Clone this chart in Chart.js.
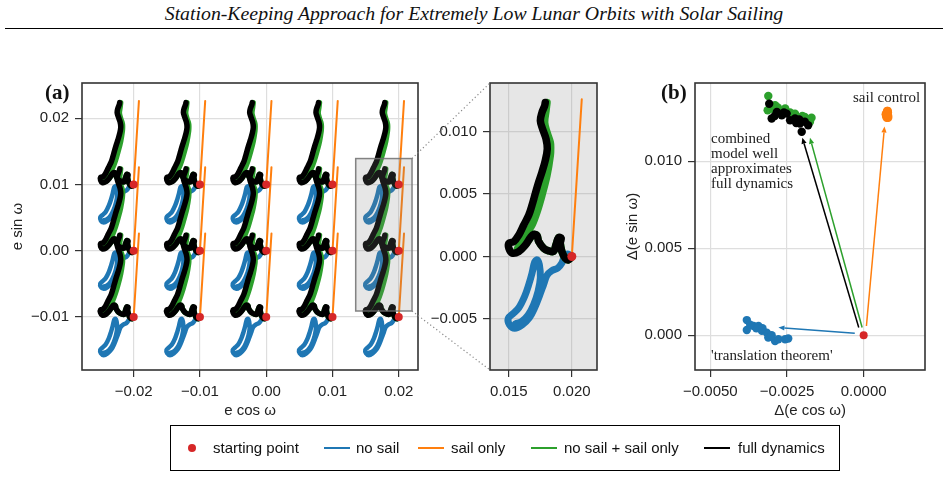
<!DOCTYPE html>
<html>
<head>
<meta charset="utf-8">
<script src="https://cdn.jsdelivr.net/npm/chart.js@4.4.1/dist/chart.umd.min.js"></script>
<style>
  body { margin: 0; background: #fff; width: 948px; height: 479px; overflow: hidden; position: relative; font-family: 'Liberation Sans', Arial, sans-serif; }
  #title { position: absolute; left: 0; top: 2px; width: 948px; text-align: center; font: italic 19.8px 'Liberation Serif', serif; color: #111; }
  #rule { position: absolute; left: 5px; top: 28px; width: 938px; border-top: 1.5px solid #000; }
  canvas { position: absolute; }
  .ann { position: absolute; font: 15px 'Liberation Serif', serif; color: #222; line-height: 15px; white-space: nowrap; }
  .lbl { position: absolute; font: bold 21px 'Liberation Serif', serif; color: #111; }
  #legend { position: absolute; left: 170px; top: 425px; width: 670px; height: 46px; border: 1px solid #000; box-sizing: border-box; }
  .item { position: absolute; top: 0; height: 44px; line-height: 44px; font-size: 15px; color: #111; }
  .mk { position: absolute; }
</style>
</head>
<body>
<div id="title">Station-Keeping Approach for Extremely Low Lunar Orbits with Solar Sailing</div>
<div id="rule"></div>

<canvas id="ca" width="430" height="360" style="left:0;top:60px"></canvas>
<canvas id="cz" width="175" height="360" style="left:430px;top:60px"></canvas>
<canvas id="cb" width="328" height="360" style="left:620px;top:60px"></canvas>
<canvas id="over" width="948" height="479" style="left:0;top:0;pointer-events:none"></canvas>

<div class="lbl" style="left:45px;top:80px">(a)</div>
<div class="lbl" style="left:661px;top:80px">(b)</div>
<div class="ann" style="left:853px;top:90px">sail control</div>
<div class="ann" style="left:711px;top:131px">combined<br>model well<br>approximates<br>full dynamics</div>
<div class="ann" style="left:711px;top:348px">'translation theorem'</div>

<div id="legend"></div>

<script>
// ---- data ----
// starting points of the grid in panel (a)
const startX = [-0.02, -0.01, 0.0, 0.01, 0.02];
const startY = [0.01, 0.0, -0.01];

// trajectories relative to their starting point
const noSailDx = [0, -0.00032, -0.00058, -0.00079, -0.00111, -0.00158, -0.00197, -0.00224, -0.00258, -0.00295, -0.00337, -0.00395, -0.00453, -0.00495, -0.00505, -0.00468, -0.00421, -0.00374, -0.00342, -0.00316, -0.00295, -0.00276, -0.00258, -0.00250, -0.00268, -0.00303, -0.00347, -0.00400, -0.00447];
const noSailDy = [0, 0.00019, 0, -0.00053, -0.00093, -0.00114, -0.00151, -0.00225, -0.00318, -0.00411, -0.00491, -0.00549, -0.00576, -0.00549, -0.00496, -0.00459, -0.00411, -0.00318, -0.00225, -0.00133, -0.00045, -0.00027, -0.00066, -0.00172, -0.00279, -0.00385, -0.00470, -0.00523, -0.00539];

const sailDx = [0, 0.00079];
const sailDy = [0, 0.0126];

const combDx = [0, -0.00026, -0.00053, -0.00079, -0.00092, -0.00105, -0.00126, -0.00145, -0.00184, -0.00224, -0.00263, -0.00276, -0.00303, -0.00329, -0.00368, -0.00421, -0.00434, -0.00410, -0.00382, -0.00350, -0.00316, -0.00276, -0.00237, -0.00197, -0.00171, -0.00168, -0.00171, -0.00197, -0.00216, -0.00205, -0.00197];
const combDy = [0, -0.00027, -0.00013, 0.00040, 0.00106, 0.00151, 0.00093, 0.00040, 0.00045, 0.00066, 0.00119, 0.00167, 0.00178, 0.00151, 0.00093, 0.00045, 0.00053, 0.00100, 0.00146, 0.00200, 0.00252, 0.00358, 0.00491, 0.00650, 0.00809, 0.00870, 0.00915, 0.00995, 0.01074, 0.01167, 0.01234];

const fullDx = [0, -0.00026, -0.00053, -0.00079, -0.00092, -0.00084, -0.00105, -0.00126, -0.00145, -0.00184, -0.00224, -0.00263, -0.00276, -0.00303, -0.00329, -0.00368, -0.00421, -0.00474, -0.00500, -0.00500, -0.00461, -0.00421, -0.00382, -0.00342, -0.00316, -0.00290, -0.00263, -0.00237, -0.00211, -0.00195, -0.00205, -0.00232, -0.00250, -0.00237, -0.00216, -0.00211];
const fullDy = [0, -0.00027, -0.00013, 0.00040, 0.00106, 0.00146, 0.00151, 0.00093, 0.00040, 0.00045, 0.00066, 0.00119, 0.00167, 0.00178, 0.00151, 0.00093, 0.00040, 0.00027, 0.00066, 0.00106, 0.00119, 0.00172, 0.00252, 0.00332, 0.00411, 0.00504, 0.00597, 0.00677, 0.00769, 0.00862, 0.00942, 0.01021, 0.01088, 0.01154, 0.01207, 0.01234];

// zoomed region
const zoomX = [0.0135, 0.0220];
const zoomY = [-0.0091, 0.0139];
const zoomStart = [0.02, 0.0];

// panel (b): end-point offsets
const endNoSailX = [-0.00381, -0.00381, -0.00359, -0.00343, -0.00332, -0.00316, -0.00311, -0.00289, -0.00278, -0.00256, -0.00246, -0.00350, -0.00330, -0.00300, -0.00370];
const endNoSailY = [0.00087, 0.00030, 0.00053, 0.00053, 0.00025, 0.00015, -0.00013, -0.00033, -0.00023, -0.00023, -0.00019, 0.00040, 0.00040, 0.00000, 0.00060];
const endSailX = [0.00072, 0.00078, 0.00080, 0.00075, 0.00078, 0.00074, 0.00077, 0.00079, 0.00073, 0.00076, 0.00080, 0.00075, 0.00077, 0.00079, 0.00076];
const endSailY = [0.01270, 0.01280, 0.01260, 0.01250, 0.01290, 0.01270, 0.01260, 0.01280, 0.01260, 0.01270, 0.01250, 0.01280, 0.01290, 0.01260, 0.01270];
const endCombX = [-0.00311, -0.00313, -0.00289, -0.00256, -0.00224, -0.00192, -0.00170, -0.00175, -0.00295, -0.00265, -0.00215, -0.00200, -0.00180, -0.00240, -0.00280];
const endCombY = [0.01375, 0.01293, 0.01322, 0.01303, 0.01274, 0.01255, 0.01250, 0.01227, 0.01300, 0.01290, 0.01240, 0.01260, 0.01240, 0.01280, 0.01310];
const endFullX = [-0.00308, -0.00300, -0.00283, -0.00267, -0.00251, -0.00240, -0.00224, -0.00208, -0.00192, -0.00202, -0.00181, -0.00290, -0.00260, -0.00220, -0.00210];
const endFullY = [0.01331, 0.01246, 0.01284, 0.01265, 0.01274, 0.01236, 0.01246, 0.01217, 0.01227, 0.01170, 0.01207, 0.01260, 0.01280, 0.01220, 0.01240];

// arrows in panel (b): [x0, y0, x1, y1]
const arrowNoSail = [-0.00029, 0.00011, -0.00278, 0.00044];
const arrowSail = [0.00009, 0.00053, 0.00068, 0.01200];
const arrowComb = [-0.00005, 0.00044, -0.00175, 0.01135];
const arrowFull = [-0.00016, 0.00044, -0.00200, 0.01135];

// ticks
const aXTicks = [-0.02, -0.01, 0, 0.01, 0.02];
const aXLabels = ['\u22120.02', '\u22120.01', '0.00', '0.01', '0.02'];
const aYTicks = [-0.01, 0, 0.01, 0.02];
const aYLabels = ['\u22120.01', '0.00', '0.01', '0.02'];
const zXTicks = [0.015, 0.020];
const zXLabels = ['0.015', '0.020'];
const zYTicks = [-0.005, 0, 0.005, 0.010];
const zYLabels = ['\u22120.005', '0.000', '0.005', '0.010'];
const bXTicks = [-0.005, -0.0025, 0];
const bXLabels = ['\u22120.0050', '\u22120.0025', '0.0000'];
const bYTicks = [0, 0.005, 0.010];
const bYLabels = ['0.000', '0.005', '0.010'];

const legendNames = ['starting point', 'no sail', 'sail only', 'no sail + sail only', 'full dynamics'];

// ---- styles ----
const RED = '#d62728', BLUE = '#1f77b4', ORANGE = '#ff7f0e', GREEN = '#2ca02c', BLACK = '#000000';
const legendColors = [RED, BLUE, ORANGE, GREEN, BLACK];
const legendMarkX = [21, 153, 247, 360, 533];
const legendTextX = [42, 185, 280, 393, 567];

Chart.defaults.font.family = "'Liberation Sans', Arial, sans-serif";
Chart.defaults.color = '#222';

function scaleOpts(o) {
  return {
    type: 'linear', min: o.min, max: o.max,
    afterBuildTicks: s => { s.ticks = o.ticks.map(v => ({ value: v })); },
    afterFit: s => { if (o.width) s.width = o.width; if (o.height) s.height = o.height; },
    ticks: { callback: (v, i) => o.labels[i], autoSkip: false, maxRotation: 0, padding: 6, color: '#222', font: { size: 15 } },
    grid: { color: o.gridColor || '#dedede', lineWidth: 1.2, tickColor: '#333', tickLength: 7, tickWidth: 1.2 },
    border: { display: false },
    title: o.title ? { display: true, text: o.title, color: '#222', font: { size: 15 }, padding: o.titlePad } : { display: false }
  };
}

const framePlugin = {
  id: 'frame',
  afterDraw(chart) {
    const { ctx, chartArea: a } = chart;
    ctx.save();
    ctx.strokeStyle = '#333';
    ctx.lineWidth = 1.6;
    ctx.strokeRect(a.left, a.top, a.right - a.left, a.bottom - a.top);
    ctx.restore();
  }
};

function lineSet(dx, dy, x0, y0, color, w) {
  return {
    data: dx.map((v, i) => ({ x: x0 + v, y: y0 + dy[i] })),
    showLine: true, borderColor: color, backgroundColor: color, borderWidth: w,
    pointRadius: 0, tension: 0.35, borderJoinStyle: 'round', borderCapStyle: 'round'
  };
}

function trajectorySets(starts, w, wBlue) {
  // top to bottom: full dynamics, combined, sail only, no sail
  const series = [
    [fullDx, fullDy, BLACK, w],
    [combDx, combDy, GREEN, w],
    [sailDx, sailDy, ORANGE, 2],
    [noSailDx, noSailDy, BLUE, wBlue]
  ];
  const sets = [];
  series.forEach(([dx, dy, c, lw]) => {
    starts.forEach(([x0, y0]) => sets.push(lineSet(dx, dy, x0, y0, c, lw)));
  });
  return sets;
}

// ---- panel (a) ----
const starts = [];
startY.forEach(y => startX.forEach(x => starts.push([x, y])));

const dsA = [{
  data: starts.map(([x, y]) => ({ x, y })),
  backgroundColor: RED, borderColor: RED, pointRadius: 4, pointBorderWidth: 0
}].concat(trajectorySets(starts, 5.5, 4.5));

const insetRect = {
  id: 'insetRect',
  afterDatasetDraw(chart, args) {
    if (args.index !== 1) return;
    const { ctx, scales: { x, y } } = chart;
    const l = x.getPixelForValue(zoomX[0]), r = x.getPixelForValue(zoomX[1]);
    const t = y.getPixelForValue(zoomY[1]), b = y.getPixelForValue(zoomY[0]);
    ctx.save();
    ctx.fillStyle = 'rgba(128,128,128,0.2)';
    ctx.fillRect(l, t, r - l, b - t);
    ctx.strokeStyle = 'rgba(110,110,110,0.85)';
    ctx.lineWidth = 1.5;
    ctx.strokeRect(l, t, r - l, b - t);
    ctx.restore();
  }
};

const chartA = new Chart(document.getElementById('ca'), {
  type: 'scatter',
  data: { datasets: dsA },
  options: {
    responsive: false, animation: false,
    layout: { padding: { top: 23, right: 12, left: 0, bottom: 0 } },
    plugins: { legend: { display: false }, tooltip: { enabled: false } },
    scales: {
      x: scaleOpts({ min: -0.0278, max: 0.0229, ticks: aXTicks, labels: aXLabels, height: 50, title: 'e cos \u03c9', titlePad: { top: 0, bottom: 0 } }),
      y: scaleOpts({ min: -0.018, max: 0.0253, ticks: aYTicks, labels: aYLabels, width: 82, title: 'e sin \u03c9', titlePad: { top: 9, bottom: 0 } })
    }
  },
  plugins: [framePlugin, insetRect]
});

// ---- zoomed panel ----
const zoomBg = {
  id: 'zoomBg',
  beforeDraw(chart) {
    const { ctx, chartArea: a } = chart;
    ctx.save();
    ctx.fillStyle = '#e6e6e6';
    ctx.fillRect(a.left, a.top, a.right - a.left, a.bottom - a.top);
    ctx.restore();
  }
};

const dsZ = [{
  data: [{ x: zoomStart[0], y: zoomStart[1] }],
  backgroundColor: RED, borderColor: RED, pointRadius: 4.5, pointBorderWidth: 0
}].concat(trajectorySets([zoomStart], 7.5, 7));

const chartZ = new Chart(document.getElementById('cz'), {
  type: 'scatter',
  data: { datasets: dsZ },
  options: {
    responsive: false, animation: false,
    layout: { padding: { top: 23, right: 8, left: 0, bottom: 0 } },
    plugins: { legend: { display: false }, tooltip: { enabled: false } },
    scales: {
      x: scaleOpts({ min: zoomX[0], max: zoomX[1], ticks: zXTicks, labels: zXLabels, height: 50, gridColor: '#cccccc' }),
      y: scaleOpts({ min: zoomY[0], max: zoomY[1], ticks: zYTicks, labels: zYLabels, width: 60, gridColor: '#cccccc' })
    }
  },
  plugins: [zoomBg, framePlugin]
});

// ---- panel (b) ----
const arrowPlugin = {
  id: 'arrows',
  beforeDatasetsDraw(chart) {
    const { ctx, scales: { x, y } } = chart;
    [[arrowNoSail, BLUE], [arrowSail, ORANGE], [arrowComb, GREEN], [arrowFull, BLACK]].forEach(([a, c]) => {
      const x0 = x.getPixelForValue(a[0]), y0 = y.getPixelForValue(a[1]);
      const x1 = x.getPixelForValue(a[2]), y1 = y.getPixelForValue(a[3]);
      const ang = Math.atan2(y1 - y0, x1 - x0);
      const hl = 6, hw = 2.6;
      ctx.save();
      ctx.strokeStyle = c; ctx.fillStyle = c; ctx.lineWidth = 1.5;
      ctx.beginPath();
      ctx.moveTo(x0, y0);
      ctx.lineTo(x1 - hl * Math.cos(ang), y1 - hl * Math.sin(ang));
      ctx.stroke();
      ctx.beginPath();
      ctx.moveTo(x1, y1);
      ctx.lineTo(x1 - hl * Math.cos(ang) + hw * Math.sin(ang), y1 - hl * Math.sin(ang) - hw * Math.cos(ang));
      ctx.lineTo(x1 - hl * Math.cos(ang) - hw * Math.sin(ang), y1 - hl * Math.sin(ang) + hw * Math.cos(ang));
      ctx.closePath();
      ctx.fill();
      ctx.restore();
    });
  }
};

function pointSet(xs, ys, c, r) {
  return { data: xs.map((v, i) => ({ x: v, y: ys[i] })), backgroundColor: c, borderColor: c, pointRadius: r, pointBorderWidth: 0 };
}

const dsB = [
  pointSet([0], [0], RED, 4),
  pointSet(endFullX, endFullY, BLACK, 4.2),
  pointSet(endCombX, endCombY, GREEN, 4.2),
  pointSet(endSailX, endSailY, ORANGE, 4.2),
  pointSet(endNoSailX, endNoSailY, BLUE, 4.2)
];

const chartB = new Chart(document.getElementById('cb'), {
  type: 'scatter',
  data: { datasets: dsB },
  options: {
    responsive: false, animation: false,
    layout: { padding: { top: 23, right: 23, left: 0, bottom: 0 } },
    plugins: { legend: { display: false }, tooltip: { enabled: false } },
    scales: {
      x: scaleOpts({ min: -0.0055, max: 0.002, ticks: bXTicks, labels: bXLabels, height: 50, title: '\u0394(e cos \u03c9)', titlePad: { top: 0, bottom: 0 } }),
      y: scaleOpts({ min: -0.002, max: 0.0145, ticks: bYTicks, labels: bYLabels, width: 75, title: '\u0394(e sin \u03c9)', titlePad: { top: 4, bottom: 0 } })
    }
  },
  plugins: [arrowPlugin, framePlugin]
});

// ---- dotted connectors between inset box and zoomed panel ----
(function () {
  const ctx = document.getElementById('over').getContext('2d');
  const ax = chartA.scales.x, ay = chartA.scales.y;
  const rx = ax.getPixelForValue(zoomX[1]);
  const rt = 60 + ay.getPixelForValue(zoomY[1]);
  const rb = 60 + ay.getPixelForValue(zoomY[0]);
  const za = chartZ.chartArea;
  ctx.strokeStyle = '#888';
  ctx.lineWidth = 1.2;
  ctx.setLineDash([1.2, 2.6]);
  ctx.beginPath();
  ctx.moveTo(rx, rt); ctx.lineTo(430 + za.left, 60 + za.top);
  ctx.moveTo(rx, rb); ctx.lineTo(430 + za.left, 60 + za.bottom);
  ctx.stroke();
})();

// ---- legend ----
const lg = document.getElementById('legend');
legendNames.forEach((name, i) => {
  const mk = document.createElement('div');
  mk.className = 'mk';
  if (i === 0) {
    mk.style.cssText = `left:${legendMarkX[i] - 4}px;top:18px;width:8px;height:8px;border-radius:50%;background:${legendColors[i]}`;
  } else {
    mk.style.cssText = `left:${legendMarkX[i]}px;top:21px;width:26px;height:2px;background:${legendColors[i]}`;
  }
  lg.appendChild(mk);
  const t = document.createElement('div');
  t.className = 'item';
  t.style.left = legendTextX[i] + 'px';
  t.textContent = name;
  lg.appendChild(t);
});
</script>
</body>
</html>
